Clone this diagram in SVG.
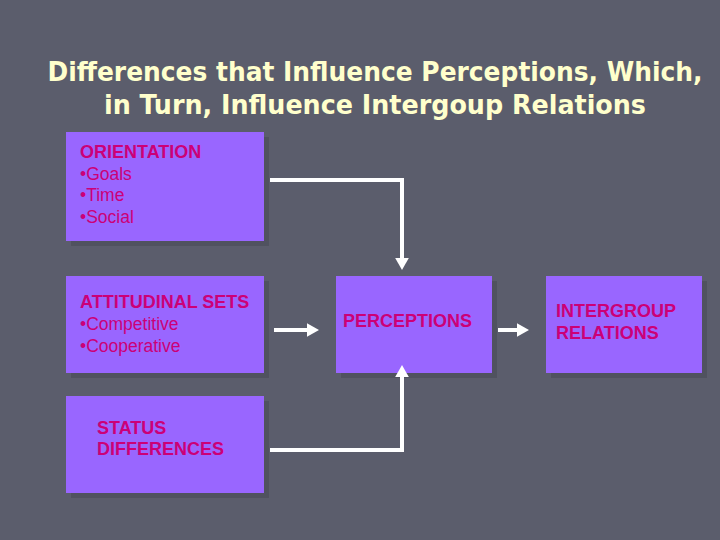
<svg xmlns="http://www.w3.org/2000/svg" width="720" height="540" viewBox="0 0 720 540">
<style>
.bg{fill:#5b5d6c}
.shadow{fill:#50525f}
.box{fill:#9966ff}
.t{font-family:"Liberation Sans",Arial,sans-serif;font-size:17.5px;fill:#cc0077}
.b{font-weight:bold;font-size:18px}
.title{font-family:"DejaVu Sans Condensed","DejaVu Sans",sans-serif;font-weight:bold;font-size:27px;fill:#ffffcc;text-anchor:middle}
.con{fill:none;stroke:#ffffff;stroke-width:4}
</style>
<defs>
<marker id="ah" markerWidth="4" markerHeight="4" refX="1.5" refY="2" orient="auto" markerUnits="strokeWidth">
<path d="M0,0.3 L3,2 L0,3.7 Z" fill="#ffffff"/>
</marker>
</defs>
<rect class="bg" x="0" y="0" width="720" height="540"/>
<text class="title" x="375" y="81" textLength="655" lengthAdjust="spacingAndGlyphs">Differences that Influence Perceptions, Which,</text>
<text class="title" x="375" y="114" textLength="542" lengthAdjust="spacingAndGlyphs">in Turn, Influence Intergoup Relations</text>
<g id="orientation">
<rect class="shadow" x="71" y="137" width="198" height="109"/>
<rect class="box" x="66" y="132" width="198" height="109"/>
<text class="t b" x="80" y="158">ORIENTATION</text>
<text class="t" x="80" y="180">•Goals</text>
<text class="t" x="80" y="201">•Time</text>
<text class="t" x="80" y="223">•Social</text>
</g>
<g id="attitudinal">
<rect class="shadow" x="71" y="281" width="198" height="97"/>
<rect class="box" x="66" y="276" width="198" height="97"/>
<text class="t b" x="80" y="308">ATTITUDINAL SETS</text>
<text class="t" x="80" y="330">•Competitive</text>
<text class="t" x="80" y="352">•Cooperative</text>
</g>
<g id="status">
<rect class="shadow" x="71" y="401" width="198" height="97"/>
<rect class="box" x="66" y="396" width="198" height="97"/>
<text class="t b" x="97" y="434">STATUS</text>
<text class="t b" x="97" y="455">DIFFERENCES</text>
</g>
<g id="perceptions">
<rect class="shadow" x="341" y="281" width="156" height="97"/>
<rect class="box" x="336" y="276" width="156" height="97"/>
<text class="t b" x="343" y="327">PERCEPTIONS</text>
</g>
<g id="intergroup">
<rect class="shadow" x="551" y="281" width="156" height="97"/>
<rect class="box" x="546" y="276" width="156" height="97"/>
<text class="t b" x="556" y="317">INTERGROUP</text>
<text class="t b" x="556" y="339">RELATIONS</text>
</g>
<g id="connectors">
<path class="con" d="M270,180 H402 V264" marker-end="url(#ah)"/>
<path class="con" d="M274,330 H313" marker-end="url(#ah)"/>
<path class="con" d="M498,330 H523" marker-end="url(#ah)"/>
<path class="con" d="M270,450 H402 V371" marker-end="url(#ah)"/>
</g>
</svg>
